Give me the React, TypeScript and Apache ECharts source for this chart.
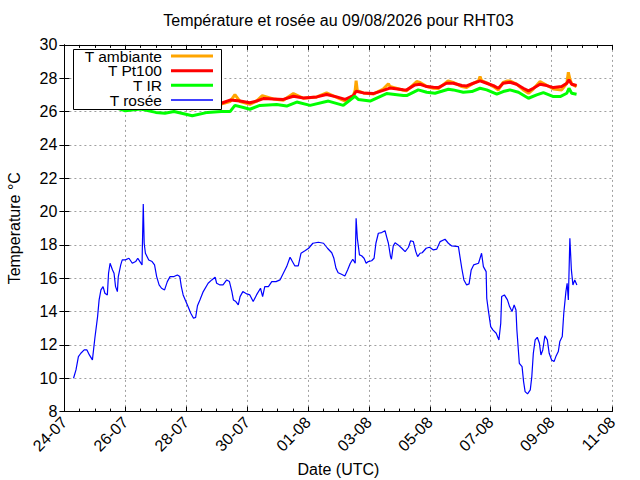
import { useEffect, useRef } from "react";
import * as echarts from "echarts";

const xTickLabels = ["24-07", "26-07", "28-07", "30-07", "01-08", "03-08", "05-08", "07-08", "09-08", "11-08"];
const seriesNames = ["T ambiante", "T Pt100", "T IR", "T rosée"];
const seriesColors = ["#ffa500", "#ff0000", "#00ff00", "#0000ff"];

// [days since 24-07 00:00 UTC, °C]
const tAmbiante: [number, number][] = [
  [0.30, 26.9], [0.6, 27.0], [1.0, 26.85], [1.5, 26.95], [2.0, 26.55], [2.5, 26.75], [3.0, 26.45], [3.3, 26.4],
  [3.6, 26.6], [4.2, 26.15], [4.7, 26.5], [5.15, 26.45], [5.44, 26.6], [5.6, 27.02], [5.77, 26.6], [6.09, 26.43],
  [6.31, 26.63], [6.5, 26.96], [6.86, 26.76], [7.19, 26.68], [7.52, 27.08], [7.85, 26.8], [8.29, 26.88], [8.61, 27.12],
  [8.94, 26.85], [9.22, 26.63], [9.49, 26.96], [9.55, 27.3], [9.58, 27.86], [9.62, 27.25], [9.82, 27.12], [10.14, 27.05],
  [10.47, 27.35], [10.64, 27.67], [10.69, 27.5], [11.13, 27.28], [11.24, 27.25], [11.57, 27.8], [11.68, 27.75], [11.9, 27.5],
  [12.12, 27.4], [12.28, 27.38], [12.6, 27.84], [12.77, 27.75], [13.05, 27.5], [13.21, 27.45], [13.43, 27.7], [13.6, 27.85],
  [13.65, 28.1], [13.7, 27.85], [13.87, 27.72], [14.09, 27.5], [14.25, 27.3], [14.41, 27.75], [14.55, 27.84], [14.63, 27.84],
  [14.85, 27.65], [15.07, 27.3], [15.24, 27.1], [15.4, 27.35], [15.62, 27.8], [15.84, 27.58], [16.06, 27.35], [16.33, 27.3],
  [16.5, 27.7], [16.55, 28.36], [16.6, 27.95], [16.66, 27.65], [16.82, 27.5],
];

const tPt100: [number, number][] = [
  [0.30, 26.85], [0.6, 26.95], [1.0, 26.85], [1.5, 26.9], [2.0, 26.6], [2.5, 26.7], [3.0, 26.5], [3.3, 26.45],
  [3.6, 26.55], [4.2, 26.25], [4.7, 26.45], [5.15, 26.5], [5.44, 26.69], [5.77, 26.63], [6.09, 26.53], [6.31, 26.63],
  [6.53, 26.78], [6.86, 26.76], [7.19, 26.73], [7.52, 26.92], [7.85, 26.82], [8.29, 26.88], [8.61, 27.02], [8.94, 26.88],
  [9.22, 26.73], [9.49, 26.96], [9.58, 27.22], [9.82, 27.12], [10.14, 27.08], [10.47, 27.27], [10.69, 27.41], [11.13, 27.31],
  [11.24, 27.3], [11.51, 27.6], [11.68, 27.64], [11.9, 27.5], [12.12, 27.46], [12.28, 27.44], [12.55, 27.7], [12.77, 27.7],
  [13.05, 27.56], [13.21, 27.54], [13.43, 27.7], [13.65, 27.84], [13.87, 27.7], [14.09, 27.56], [14.25, 27.4], [14.41, 27.7],
  [14.63, 27.76], [14.85, 27.64], [15.07, 27.4], [15.24, 27.24], [15.4, 27.4], [15.62, 27.64], [15.84, 27.56], [16.06, 27.44],
  [16.33, 27.5], [16.5, 27.7], [16.57, 27.9], [16.66, 27.64], [16.82, 27.56],
];

const tIR: [number, number][] = [
  [0.30, 26.3], [0.6, 26.4], [1.0, 26.3], [1.5, 26.35], [2.0, 26.05], [2.5, 26.15], [3.0, 25.95], [3.3, 25.9],
  [3.6, 26.0], [4.2, 25.75], [4.7, 25.95], [5.15, 26.0], [5.44, 26.0], [5.6, 26.37], [5.88, 26.24], [6.09, 26.14],
  [6.42, 26.37], [6.97, 26.43], [7.3, 26.33], [7.63, 26.57], [8.07, 26.37], [8.67, 26.63], [9.16, 26.37], [9.54, 26.92],
  [9.65, 26.73], [10.04, 26.63], [10.58, 27.08], [11.13, 26.96], [11.24, 26.96], [11.62, 27.3], [11.9, 27.16], [12.17, 27.1],
  [12.61, 27.34], [12.77, 27.3], [13.1, 27.16], [13.38, 27.2], [13.65, 27.4], [13.87, 27.3], [14.2, 27.04], [14.41, 27.2],
  [14.63, 27.3], [14.91, 27.16], [15.24, 26.8], [15.51, 27.0], [15.73, 27.14], [16.06, 26.9], [16.28, 26.9], [16.5, 27.1],
  [16.57, 27.4], [16.66, 27.1], [16.82, 27.04],
];

const tRosee: [number, number][] = [
  [0.30, 10.0], [0.38, 10.5], [0.46, 11.3], [0.54, 11.5], [0.65, 11.7], [0.74, 11.7], [0.82, 11.4], [0.92, 11.1],
  [1.00, 12.4], [1.09, 13.7], [1.14, 14.7], [1.20, 15.3], [1.27, 15.5], [1.33, 15.1], [1.41, 15.0], [1.45, 16.3],
  [1.50, 16.9], [1.58, 16.5], [1.63, 16.3], [1.68, 15.5], [1.74, 15.2], [1.77, 16.1], [1.85, 16.8], [1.90, 17.1],
  [2.00, 17.1], [2.12, 17.2], [2.23, 16.9], [2.34, 17.0], [2.41, 17.2], [2.48, 17.0], [2.55, 16.8], [2.56, 17.8],
  [2.59, 20.45], [2.62, 18.1], [2.66, 17.5], [2.77, 17.1], [2.88, 17.0], [2.96, 16.8], [3.03, 16.1], [3.11, 15.6],
  [3.19, 15.4], [3.29, 15.3], [3.38, 15.8], [3.47, 16.1], [3.60, 16.1], [3.71, 16.2], [3.79, 16.1], [3.84, 15.5],
  [3.90, 15.0], [3.99, 14.6], [4.06, 14.3], [4.15, 13.9], [4.24, 13.6], [4.31, 13.65], [4.37, 14.35], [4.45, 14.7],
  [4.56, 15.2], [4.72, 15.7], [4.84, 15.9], [4.95, 16.06], [5.00, 15.7], [5.11, 15.6], [5.21, 15.6], [5.33, 15.9],
  [5.42, 15.8], [5.50, 15.2], [5.55, 14.7], [5.63, 14.6], [5.71, 14.4], [5.77, 14.9], [5.86, 15.2], [5.99, 15.06],
  [6.09, 15.0], [6.20, 14.6], [6.31, 15.0], [6.44, 15.4], [6.51, 14.9], [6.58, 15.5], [6.70, 15.5], [6.81, 15.8],
  [6.95, 15.8], [7.08, 15.9], [7.19, 16.3], [7.30, 16.7], [7.41, 17.26], [7.46, 17.1], [7.57, 16.74], [7.68, 16.74],
  [7.77, 17.5], [7.90, 17.65], [8.02, 17.8], [8.16, 18.1], [8.34, 18.16], [8.51, 18.1], [8.64, 17.8], [8.78, 17.53],
  [8.85, 17.2], [8.92, 16.6], [8.99, 16.33], [9.10, 16.24], [9.21, 16.14], [9.30, 16.5], [9.39, 16.9], [9.47, 17.14],
  [9.55, 16.9], [9.58, 19.6], [9.62, 18.4], [9.69, 17.4], [9.76, 17.35], [9.84, 17.2], [9.91, 16.9], [9.98, 17.0],
  [10.09, 17.05], [10.17, 17.2], [10.23, 18.1], [10.31, 18.7], [10.42, 18.74], [10.53, 18.85], [10.58, 18.5], [10.64, 18.1],
  [10.71, 17.3], [10.74, 17.14], [10.80, 17.94], [10.86, 18.13], [10.96, 18.0], [11.08, 17.8], [11.19, 17.6], [11.30, 17.86],
  [11.37, 18.25], [11.46, 18.2], [11.54, 17.6], [11.60, 17.3], [11.68, 17.5], [11.75, 17.53], [11.88, 17.8], [11.99, 17.86],
  [12.12, 17.7], [12.23, 17.75], [12.34, 18.2], [12.50, 18.34], [12.61, 18.1], [12.72, 17.94], [12.94, 17.9], [12.99, 17.3],
  [13.05, 16.6], [13.12, 15.9], [13.21, 15.6], [13.29, 15.66], [13.36, 16.5], [13.44, 16.8], [13.60, 16.9], [13.70, 17.5],
  [13.76, 16.7], [13.85, 16.4], [13.87, 14.8], [13.92, 14.1], [14.00, 13.1], [14.07, 12.9], [14.18, 12.7], [14.27, 12.3],
  [14.33, 13.3], [14.36, 14.9], [14.45, 15.0], [14.55, 14.7], [14.62, 14.3], [14.70, 14.0], [14.77, 14.4], [14.83, 14.1],
  [14.86, 12.9], [14.94, 10.9], [15.03, 10.7], [15.08, 9.8], [15.13, 9.2], [15.21, 9.06], [15.30, 9.3], [15.35, 10.1],
  [15.40, 11.5], [15.46, 12.3], [15.53, 12.46], [15.60, 12.1], [15.65, 11.4], [15.71, 11.7], [15.78, 12.54], [15.86, 12.3],
  [15.92, 11.5], [16.00, 11.1], [16.08, 11.0], [16.14, 11.3], [16.22, 11.6], [16.27, 12.2], [16.35, 12.5], [16.40, 13.9],
  [16.47, 15.2], [16.51, 15.7], [16.55, 14.7], [16.60, 18.4], [16.65, 16.5], [16.70, 15.6], [16.76, 15.9], [16.83, 15.6],
];

const FONT = "'Liberation Sans', Arial, sans-serif";

export default function App() {
  const ref = useRef<HTMLDivElement>(null);
  useEffect(() => {
    if (!ref.current) return;
    const chart = echarts.init(ref.current, null, { renderer: "svg" });
    const gridLeft = 64.4;
    const gridTop = 44.9;
    const gridRight = 27.5;
    const gridBottom = 68.4;
    const plotCenterX = gridLeft + (640 - gridLeft - gridRight) / 2;

    const xCommon = {
      type: "value" as const,
      min: 0,
      max: 18,
      interval: 2,
      axisLine: { show: true, lineStyle: { color: "#000", width: 1 } },
      axisTick: { show: true, inside: true, length: 5, lineStyle: { color: "#000" } },
      minorTick: { show: true, splitNumber: 4, length: 3, lineStyle: { color: "#000" } },
    };
    const yCommon = {
      type: "value" as const,
      min: 8,
      max: 30,
      interval: 2,
      axisLine: { show: true, lineStyle: { color: "#000", width: 1 } },
      axisTick: { show: true, inside: true, length: 5, lineStyle: { color: "#000" } },
    };
    const gridLine = { show: true, lineStyle: { color: "#a0a0a0", width: 1, type: [2, 3] } };

    const legendRows = [56, 70.7, 85.3, 100];
    const legendWidths = [3, 3, 3, 1.3];
    const legendGraphics: any[] = [
      {
        type: "rect",
        shape: { x: 73.5, y: 49.5, width: 148, height: 60 },
        style: { fill: "#fff", stroke: "#000", lineWidth: 1 },
        z: 100,
      },
    ];
    seriesNames.forEach((n, i) => {
      legendGraphics.push({
        type: "text",
        x: 162,
        y: legendRows[i],
        style: { text: n, font: `15.5px ${FONT}`, fill: "#000", textAlign: "right", textVerticalAlign: "middle" },
        z: 101,
      });
      legendGraphics.push({
        type: "line",
        shape: { x1: 171, y1: legendRows[i], x2: 213, y2: legendRows[i] },
        style: { stroke: seriesColors[i], lineWidth: legendWidths[i] },
        z: 101,
      });
    });

    const seriesData = [tAmbiante, tPt100, tIR, tRosee];
    const lineWidths = [3, 3, 3, 1.2];

    chart.setOption({
      animation: false,
      backgroundColor: "#fff",
      textStyle: { fontFamily: FONT },
      grid: {
        left: gridLeft,
        top: gridTop,
        right: gridRight,
        bottom: gridBottom,
        containLabel: false,
        outerBoundsMode: "none",
      },
      xAxis: [
        {
          ...xCommon,
          position: "bottom",
          name: "Date (UTC)",
          nameLocation: "middle",
          nameGap: 46,
          nameTextStyle: { fontSize: 16, color: "#000", fontFamily: FONT },
          axisLabel: {
            show: true,
            rotate: 45,
            margin: 8,
            fontSize: 16,
            color: "#000",
            fontFamily: FONT,
            formatter: (v: number) => xTickLabels[Math.round(v / 2)] ?? "",
          },
          splitLine: gridLine,
        },
        {
          ...xCommon,
          position: "top",
          axisLabel: { show: false },
          splitLine: { show: false },
        },
      ],
      yAxis: [
        {
          ...yCommon,
          position: "left",
          name: "Temperature °C",
          nameLocation: "middle",
          nameGap: 42,
          nameTextStyle: { fontSize: 16, color: "#000", fontFamily: FONT },
          axisLabel: { show: true, margin: 7, fontSize: 16, color: "#000", fontFamily: FONT },
          splitLine: gridLine,
        },
        {
          ...yCommon,
          position: "right",
          axisLabel: { show: false },
          splitLine: { show: false },
        },
      ],
      graphic: [
        {
          type: "text",
          x: plotCenterX,
          y: 20,
          style: {
            text: "Température et rosée au 09/08/2026 pour RHT03",
            font: `16px ${FONT}`,
            fill: "#000",
            textAlign: "center",
            textVerticalAlign: "middle",
          },
        },
        ...legendGraphics,
      ],
      series: seriesNames.map((n, i) => ({
        name: n,
        type: "line",
        xAxisIndex: 0,
        yAxisIndex: 0,
        data: seriesData[i],
        showSymbol: false,
        symbol: "none",
        lineStyle: { color: seriesColors[i], width: lineWidths[i] },
        z: 2 + i,
      })),
    });
    return () => chart.dispose();
  }, []);
  return (
    <div
      ref={ref}
      style={{ position: "fixed", left: 0, top: 0, width: 640, height: 480, background: "#fff" }}
    />
  );
}
